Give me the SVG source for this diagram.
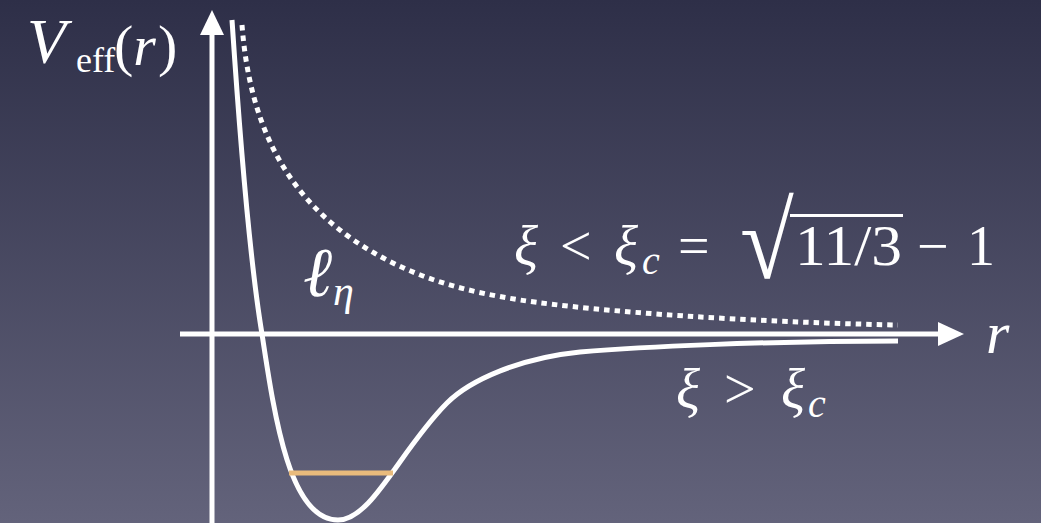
<svg xmlns="http://www.w3.org/2000/svg" width="1041" height="523" viewBox="0 0 1041 523">
<defs>
<linearGradient id="bg" x1="0" y1="0" x2="0" y2="1">
<stop offset="0" stop-color="#2e2f48"/>
<stop offset="1" stop-color="#63637b"/>
</linearGradient>
</defs>
<style>
.ln{fill:none;stroke:#fff;stroke-width:5}
.dot{fill:none;stroke:#fff;stroke-width:5;stroke-dasharray:5.5 5}
.ah{fill:#fff}
text{font-family:"Liberation Serif","DejaVu Serif",serif;fill:#fff}
.i{font-style:italic}
</style>
<rect width="1041" height="523" fill="url(#bg)"/>
<g id="axes">
<line class="ln" x1="212" y1="523" x2="212" y2="30"/>
<polygon class="ah" points="212,10 200,35 224,35"/>
<line class="ln" x1="180" y1="334" x2="942" y2="334"/>
<polygon class="ah" points="964,334 938,322 938,346"/>
</g>
<g id="connectors">
<path class="dot" d="M242,25 C250,130 290,210 387,260 C430,282 470,292 520,300 C600,312 750,322 898,325"/>
<path class="ln" d="M232,20 C242,170 253,280 262,334 C275,420 290,520 338,520 C372,520 400,450 447,403 C470,380 520,358 580,352 C640,347 760,341 898,341"/>
<line x1="289" y1="473" x2="393" y2="473" stroke="#e9bb7c" stroke-width="5"/>
</g>
<g id="label-veff">
<text class="i" x="27" y="63" font-size="64">V</text>
<text x="76" y="72" font-size="36">eff</text>
<text x="114" y="65" font-size="58">(<tspan class="i">r</tspan><tspan dx="2">)</tspan></text>
</g>
<g id="label-r">
<text class="i" x="986" y="353" font-size="60">r</text>
</g>
<g id="label-ell">
<text class="i" x="303" y="296" font-size="70">ℓ</text>
<text class="i" x="333" y="305" font-size="42">η</text>
</g>
<g id="label-less">
<text class="i" x="514" y="265" font-size="56">ξ</text>
<text x="560" y="265" font-size="56">&lt;</text>
<text class="i" x="614" y="265" font-size="56">ξ</text>
<text class="i" x="642" y="274" font-size="40">c</text>
<text x="678" y="265" font-size="56">=</text>
<text transform="translate(740,278) scale(1,1.1)" font-size="98">√</text>
<line x1="790" y1="215.5" x2="903" y2="215.5" stroke="#fff" stroke-width="3"/>
<text x="795" y="265" font-size="56" textLength="107" lengthAdjust="spacingAndGlyphs">11/3</text>
<text x="917" y="265" font-size="56">−</text>
<text x="967" y="265" font-size="56">1</text>
</g>
<g id="label-greater">
<text class="i" x="676" y="408" font-size="56">ξ</text>
<text x="724" y="408" font-size="56">&gt;</text>
<text class="i" x="781" y="408" font-size="56">ξ</text>
<text class="i" x="808" y="417" font-size="40">c</text>
</g>
</svg>
